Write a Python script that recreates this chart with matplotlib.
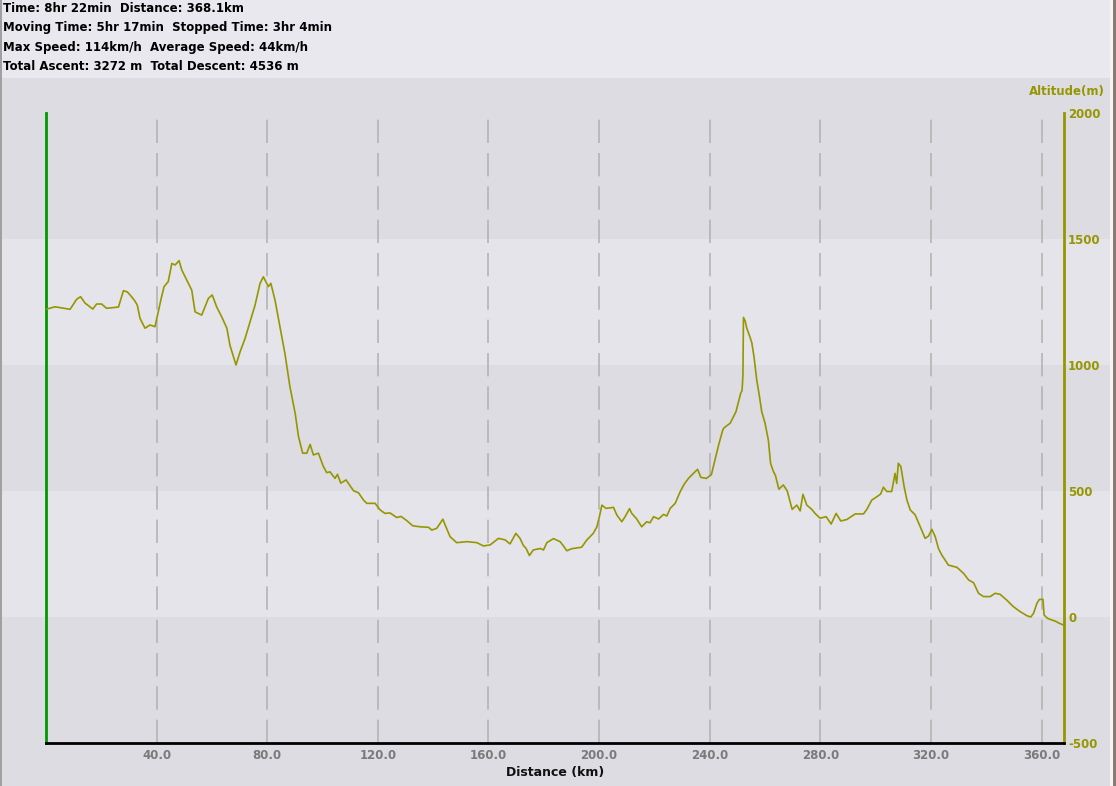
import matplotlib
matplotlib.use("Agg")
import matplotlib.pyplot as plt
from matplotlib.patches import Rectangle

# elevation profile
distance_km = [0, 3.3, 8.7, 11.1, 12.5, 14.1, 16.9, 18.3, 20.1, 21.9, 26.2, 28.0, 29.4, 30.4, 31.9, 33.0,
               34.0, 35.8, 37.6, 39.4, 40.6, 41.8, 42.7, 44.2, 45.5, 46.7, 48.1, 49.1, 50.9, 52.7, 53.9,
               56.3, 58.7, 60.1, 61.7, 63.5, 65.4, 66.5, 68.7, 70.2, 72.0, 73.8, 75.6, 77.4, 78.6, 80.4,
               81.3, 82.8, 84.6, 86.4, 88.2, 90.1, 91.3, 92.8, 94.3, 95.5, 96.7, 98.5, 100.3, 101.5,
               102.7, 104.5, 105.4, 106.6, 108.5, 111.2, 113.0, 114.8, 116.0, 119.0, 120.8, 122.6, 124.4,
               126.8, 128.4, 130.5, 132.6, 135.3, 138.3, 139.5, 141.3, 143.5, 144.6, 146.1, 148.5, 152.2,
               155.8, 158.2, 160.6, 163.6, 166.0, 167.8, 169.9, 171.4, 172.6, 173.6, 174.8, 176.2, 178.7,
               179.9, 181.1, 183.5, 185.9, 187.1, 188.3, 190.1, 193.7, 195.5, 197.9, 199.2, 200.1, 201.0,
               202.5, 205.2, 206.4, 208.2, 209.4, 211.0, 211.8, 213.6, 215.4, 217.2, 218.4, 219.7, 221.5,
               223.3, 224.5, 225.7, 227.5, 229.3, 230.7, 232.3, 234.1, 235.6, 236.8, 238.8, 240.6, 241.6,
               242.3, 243.2, 244.7, 245.2, 247.4, 248.6, 249.5, 250.4, 251.2, 251.7, 252.0, 252.2, 252.8,
               253.4, 254.3, 255.2, 256.0, 257.0, 258.0, 258.8, 260.0, 261.2, 262.0, 262.9, 263.8, 265.0,
               266.6, 268.0, 269.8, 271.5, 272.7, 273.7, 275.1, 276.9, 278.1, 279.9, 282.1, 283.9, 285.7,
               287.4, 289.6, 292.6, 295.6, 296.8, 298.6, 300.4, 301.8, 302.8, 304.0, 305.8, 307.0, 307.6,
               308.2, 309.1, 310.3, 311.3, 312.5, 314.3, 316.1, 317.9, 319.1, 320.3, 321.5, 322.7, 323.9,
               326.3, 329.4, 331.8, 333.6, 335.4, 337.2, 339.0, 341.4, 343.2, 345.0, 347.4, 349.8, 352.3,
               354.7, 356.1, 357.1, 358.3, 359.2, 360.5, 360.9, 362.1, 363.7, 364.9, 366.4, 368.0]
altitude_m = [1221, 1231, 1221, 1261, 1271, 1246, 1222, 1242, 1242, 1225, 1230, 1295, 1290, 1278, 1258, 1238,
              1185, 1146, 1159, 1152, 1211, 1271, 1311, 1331, 1403, 1397, 1414, 1377, 1337, 1297, 1211,
              1198, 1264, 1278, 1231, 1192, 1146, 1079, 1000, 1053, 1106, 1172, 1238, 1324, 1350, 1311,
              1324, 1258, 1152, 1045, 914, 808, 716, 650, 650, 685, 643, 650, 597, 573,
              576, 550, 566, 531, 544, 501, 493, 464, 451, 451, 425, 411, 413,
              395, 399, 382, 362, 358, 356, 345, 352, 388, 358, 319, 295, 299,
              295, 282, 286, 312, 306, 290, 332, 312, 284, 272, 244, 266, 272,
              266, 295, 311, 299, 282, 263, 271, 277, 305, 332, 358, 398, 444,
              431, 435, 405, 378, 398, 430, 411, 389, 358, 378, 374, 398, 389,
              407, 401, 431, 451, 497, 526, 550, 570, 586, 554, 550, 565, 610,
              643, 682, 742, 751, 769, 795, 815, 854, 888, 899, 960, 1189, 1175,
              1146, 1119, 1089, 1033, 940, 874, 815, 769, 702, 610, 581, 560, 507,
              524, 501, 427, 444, 421, 487, 444, 427, 411, 392, 398, 369, 411,
              381, 387, 409, 409, 427, 464, 477, 488, 515, 498, 498, 570, 530,
              610, 597, 517, 464, 425, 405, 358, 312, 321, 348, 320, 272, 246,
              206, 197, 173, 147, 136, 94, 81, 81, 94, 90, 67, 41, 21,
              5, 0, 15, 54, 70, 70, 8, -5, -12, -16, -25, -32]

x_ticks = [40, 80, 120, 160, 200, 240, 280, 320, 360]
y_ticks = [-500, 0, 500, 1000, 1500, 2000]

header_lines = ["Time: 8hr 22min  Distance: 368.1km",
                "Moving Time: 5hr 17min  Stopped Time: 3hr 4min",
                "Max Speed: 114km/h  Average Speed: 44km/h",
                "Total Ascent: 3272 m  Total Descent: 4536 m"]

DARK = "#dcdce2"
LIGHT = "#e4e4ea"
OLIVE = "#969600"

fig = plt.figure(figsize=(11.16, 7.86), dpi=100)
fig.patch.set_facecolor(DARK)

# header strip + window borders
fig.patches.append(Rectangle((0, 1 - 78 / 786), 1, 78 / 786, transform=fig.transFigure,
                             facecolor="#e8e8ee", edgecolor="none", zorder=0))
fig.patches.append(Rectangle((0, 0), 2 / 1116, 1, transform=fig.transFigure,
                             facecolor="#a0a0a0", edgecolor="none", zorder=1))
fig.patches.append(Rectangle((1110 / 1116, 0), 6 / 1116, 1, transform=fig.transFigure,
                             facecolor="#f4f4f4", edgecolor="none", zorder=1))
fig.patches.append(Rectangle((1113 / 1116, 0), 3 / 1116, 1, transform=fig.transFigure,
                             facecolor="#8a7a70", edgecolor="none", zorder=1))

for i, line in enumerate(header_lines):
    fig.text(3 / 1116, 1 - (8 + i * 19.5) / 786, line, fontsize=8.5, fontweight="bold",
             color="black", ha="left", va="center")

ax = fig.add_axes([46 / 1116, 1 - 743 / 786, 1018 / 1116, 630 / 786])
ax.set_facecolor("none")

# light horizontal bands run across the whole window
for lo in (0, 1000):
    ax.axhspan(lo, lo + 500, xmin=-44 / 1018, xmax=1064 / 1018, facecolor=LIGHT,
               edgecolor="none", clip_on=False, zorder=0)

for xt in x_ticks:
    ax.axvline(xt, color="#b4b4b4", lw=1.2, dashes=(14, 6), zorder=1)

ax.plot(distance_km, altitude_m, color=OLIVE, lw=1.2, zorder=3)

ax.set_xlim(0, 368.1)
ax.set_ylim(-500, 2000)

ax.spines["top"].set_visible(False)
ax.spines["left"].set_color("#009900")
ax.spines["left"].set_linewidth(2)
ax.spines["right"].set_color(OLIVE)
ax.spines["right"].set_linewidth(2)
ax.spines["bottom"].set_color("black")
ax.spines["bottom"].set_linewidth(2)

ax.set_xticks(x_ticks)
ax.set_xticklabels(["%.1f" % v for v in x_ticks], fontsize=8.5, fontweight="bold", color="#7a7a7a")
ax.tick_params(axis="x", length=0, pad=4)

ax.yaxis.tick_right()
ax.set_yticks(y_ticks)
ax.set_yticklabels([str(v) for v in y_ticks], fontsize=8.5, fontweight="bold", color=OLIVE)
ax.tick_params(axis="y", length=0, pad=3)

ax.set_xlabel("Distance (km)", fontsize=9, fontweight="bold", color="#101010", labelpad=3)

fig.text(1105 / 1116, 1 - 92 / 786, "Altitude(m)", fontsize=8.5, fontweight="bold",
         color=OLIVE, ha="right", va="center")

fig.savefig("out.png", dpi=100, facecolor=fig.get_facecolor())
